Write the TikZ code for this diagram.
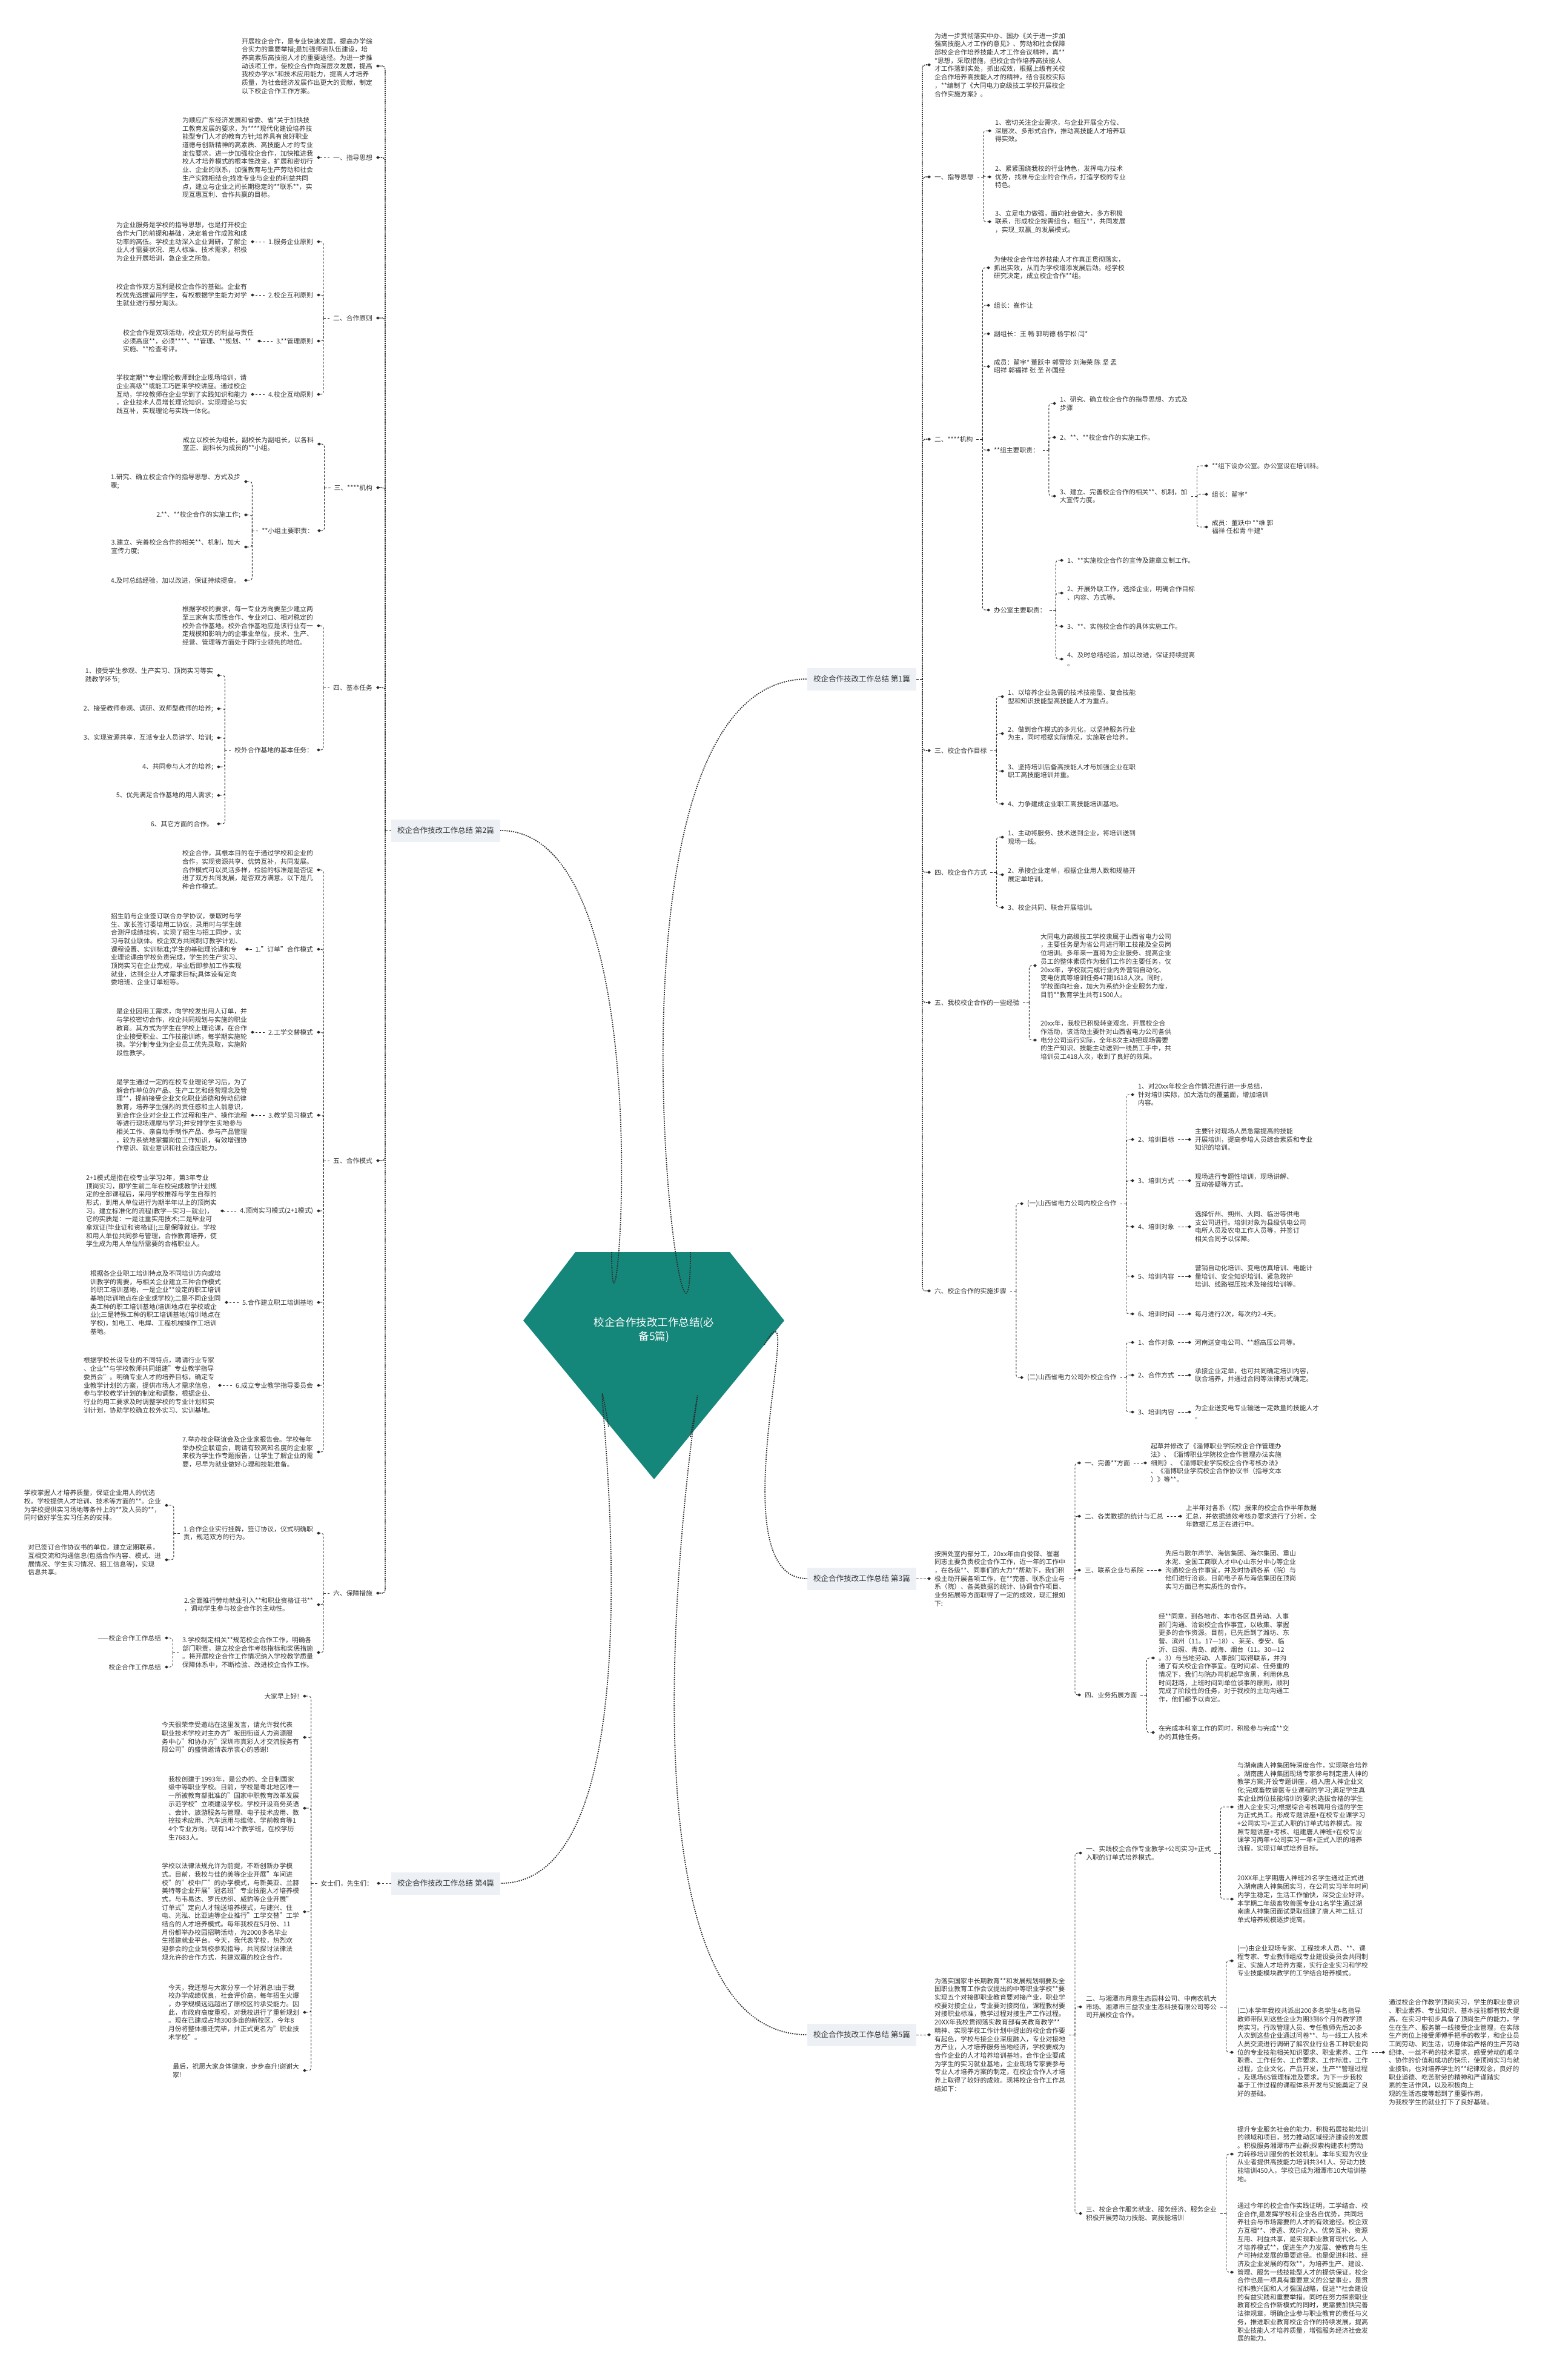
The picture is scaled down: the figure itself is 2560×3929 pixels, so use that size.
\documentclass[tikz,border=0pt]{standalone}
\usepackage{fontspec}
\setmainfont{Noto Sans CJK SC}
\usepackage{tikz}
\usetikzlibrary{positioning,arrows.meta,shapes.geometric,calc}
\usepackage{xcolor}
\definecolor{hubteal}{HTML}{15867A}
\definecolor{boxfill}{HTML}{EDF1F6}
\definecolor{inkgray}{HTML}{333333}
\definecolor{linegray}{HTML}{2B2B2B}

\begin{document}
\begin{tikzpicture}[x=1pt, y=-1pt,
    every node/.style={font=\fontsize{10.8}{13.7}\selectfont, text=inkgray},
    lt/.style={anchor=east, align=left, inner sep=0pt, outer xsep=6pt, outer ysep=0pt},
    rt/.style={anchor=west, align=left, inner sep=0pt, outer xsep=6pt, outer ysep=0pt},
    branch/.style={fill=boxfill, inner xsep=10pt, inner ysep=0pt, minimum height=37pt, font=\fontsize{12.5}{15}\selectfont},
    link/.style={draw=linegray, line width=0.9pt, dash pattern=on 3.5pt off 2.5pt, rounded corners=4pt, -{Diamond[length=6pt,width=5pt]}},
    stub/.style={draw=linegray, line width=0.9pt, dash pattern=on 3.5pt off 2.5pt},
    spine/.style={draw=linegray, line width=1.6pt, dash pattern=on 1.6pt off 1.6pt, rounded corners=5pt, -{Diamond[length=6pt,width=5pt]}},
    hubline/.style={draw=linegray, line width=1.8pt, dash pattern=on 1.8pt off 1.8pt}
]
    \fill[white] (0,0) rectangle (2560,3929);
    \useasboundingbox (0,0) rectangle (2560,3929);

    % Zentrum
    \fill[hubteal] (950,2067) -- (1205,2067) -- (1295,2180) -- (1080,2442) -- (864,2180) -- cycle;
    \node[text=white, align=center, font=\fontsize{17.5}{23}\selectfont] (hub) at (1080,2195) {校企合作技改工作总结(必\\备5篇)};
    \coordinate (hubA) at (1140,2067);
    \coordinate (hubB) at (1010,2067);
    \coordinate (hubC) at (1262,2220);
    \coordinate (hubD) at (1005,2355);
    \coordinate (hubE) at (1140,2372);

    % Hauptäste
    \node[branch, anchor=east] (bOne) at (1513,1121) {校企合作技改工作总结 第1篇};
    \node[branch, anchor=west] (bTwo) at (646,1371) {校企合作技改工作总结 第2篇};
    \node[branch, anchor=east] (bThree) at (1513,2606) {校企合作技改工作总结 第3篇};
    \node[branch, anchor=west] (bFour) at (646,3109) {校企合作技改工作总结 第4篇};
    \node[branch, anchor=east] (bFive) at (1513,3359) {校企合作技改工作总结 第5篇};

    \draw[hubline] (hubA) to[out=-90, in=180] (bOne.west);
    \draw[hubline] (hubB) to[out=-90, in=0] (bTwo.east);
    \draw[hubline] (hubC) to[out=60, in=180] (bThree.west);
    \draw[hubline] (hubD) to[out=100, in=0] (bFour.east);
    \draw[hubline] (hubE) to[out=80, in=180] (bFive.west);

    % ===== 第2篇 =====
    \node[lt] (twoIntro) at (621,109) {开展校企合作，是专业快速发展，提高办学综\\合实力的重要举措;是加强师资队伍建设，培\\养高素质高技能人才的重要途径。为进一步推\\动该项工作，使校企合作向深层次发展，提高\\我校办学水*和技术应用能力，提高人才培养\\质量，为社会经济发展作出更大的贡献，制定\\以下校企合作工作方案。};
    \node[lt] (twoGuide) at (621,260) {一、指导思想};
    \node[lt] (twoGuideTxt) at (523,260) {为顺应广东经济发展和省委、省*关于加快技\\工教育发展的要求，为****现代化建设培养技\\能型专门人才的教育方针;培养具有良好职业\\道德与创新精神的高素质、高技能人才的专业\\定位要求，进一步加强校企合作，加快推进我\\校人才培养模式的根本性改变，扩展和密切行\\业、企业的联系，加强教育与生产劳动和社会\\生产实践相结合;找准专业与企业的利益共同\\点，建立与企业之间长期稳定的**联系**，实\\现互惠互利、合作共赢的目标。};
    \node[lt] (twoPrin) at (621,525) {二、合作原则};
    \node[lt] (twoPrinA) at (523,399) {1.服务企业原则};
    \node[lt] (twoPrinAt) at (414,399) {为企业服务是学校的指导思想，也是打开校企\\合作大门的前提和基础，决定着合作成败和成\\功率的高低。学校主动深入企业调研，了解企\\业人才需要状况、用人标准、技术需求，积极\\为企业开展培训，急企业之所急。};
    \node[lt] (twoPrinB) at (523,487) {2.校企互利原则};
    \node[lt] (twoPrinBt) at (414,487) {校企合作双方互利是校企合作的基础。企业有\\权优先选拔留用学生，有权根据学生能力对学\\生就业进行部分淘汰。};
    \node[lt] (twoPrinC) at (523,563) {3.**管理原则};
    \node[lt] (twoPrinCt) at (425,563) {校企合作是双项活动，校企双方的利益与责任\\必须高度**，必须****、**管理、**规划、**\\实施、**检查考评。};
    \node[lt] (twoPrinD) at (523,651) {4.校企互动原则};
    \node[lt] (twoPrinDt) at (414,651) {学校定期**专业理论教师到企业现场培训，请\\企业高级**或能工巧匠来学校讲座。通过校企\\互动，学校教师在企业学到了实践知识和能力\\，企业技术人员增长理论知识，实现理论与实\\践互补，实现理论与实践一体化。};

    \node[lt] (twoOrg) at (621,805) {三、****机构};
    \node[lt] (twoOrgTxt) at (524,733) {成立以校长为组长，副校长为副组长，以各科\\室正、副科长为成员的**小组。};
    \node[lt] (twoOrgDuty) at (524,876) {**小组主要职责：};
    \node[lt] (twoOrgDutyA) at (403,795) {1.研究、确立校企合作的指导思想、方式及步\\骤;};
    \node[lt] (twoOrgDutyB) at (403,850) {2.**、**校企合作的实施工作;};
    \node[lt] (twoOrgDutyC) at (403,903) {3.建立、完善校企合作的相关**、机制，加大\\宣传力度;};
    \node[lt] (twoOrgDutyD) at (403,958) {4.及时总结经验，加以改进，保证持续提高。};

    \node[lt] (twoTask) at (621,1135) {四、基本任务};
    \node[lt] (twoTaskTxt) at (523,1033) {根据学校的要求，每一专业方向要至少建立两\\至三家有实质性合作、专业对口、相对稳定的\\校外合作基地。校外合作基地应是该行业有一\\定规模和影响力的企事业单位，技术、生产、\\经营、管理等方面处于同行业领先的地位。};
    \node[lt] (twoTaskBase) at (523,1238) {校外合作基地的基本任务：};
    \node[lt] (twoTaskBaseA) at (358,1115) {1、接受学生参观、生产实习、顶岗实习等实\\践教学环节;};
    \node[lt] (twoTaskBaseB) at (358,1170) {2、接受教师参观、调研、双师型教师的培养;};
    \node[lt] (twoTaskBaseC) at (358,1218) {3、实现资源共享，互派专业人员讲学、培训;};
    \node[lt] (twoTaskBaseD) at (358,1266) {4、共同参与人才的培养;};
    \node[lt] (twoTaskBaseE) at (358,1313) {5、优先满足合作基地的用人需求;};
    \node[lt] (twoTaskBaseF) at (358,1360) {6、其它方面的合作。};

    \node[lt] (twoMode) at (621,1916) {五、合作模式};
    \node[lt] (twoModeTxt) at (523,1436) {校企合作，其根本目的在于通过学校和企业的\\合作，实现资源共享、优势互补，共同发展。\\合作模式可以灵活多样，检验的标准是是否促\\进了双方共同发展，是否双方满意。以下是几\\种合作模式。};
    \node[lt] (twoModeA) at (523,1567) {1."订单"合作模式};
    \node[lt] (twoModeAt) at (405,1567) {招生前与企业签订联合办学协议，录取时与学\\生、家长签订委培用工协议，录用时与学生综\\合测评成绩挂钩，实现了招生与招工同步，实\\习与就业联体。校企双方共同制订教学计划、\\课程设置、实训标准;学生的基础理论课和专\\业理论课由学校负责完成，学生的生产实习、\\顶岗实习在企业完成，毕业后即参加工作实现\\就业，达到企业人才需求目标;具体设有定向\\委培班、企业订单班等。};
    \node[lt] (twoModeB) at (523,1704) {2.工学交替模式};
    \node[lt] (twoModeBt) at (414,1704) {是企业因用工需求，向学校发出用人订单，并\\与学校密切合作，校企共同规划与实施的职业\\教育。其方式为学生在学校上理论课，在合作\\企业接受职业、工作技能训练，每学期实施轮\\换。学分制专业为企业员工优先录取，实施阶\\段性教学。};
    \node[lt] (twoModeC) at (523,1841) {3.教学见习模式};
    \node[lt] (twoModeCt) at (414,1841) {是学生通过一定的在校专业理论学习后，为了\\解合作单位的产品、生产工艺和经营理念及管\\理**，提前接受企业文化职业道德和劳动纪律\\教育，培养学生强烈的责任感和主人翁意识，\\到合作企业对企业工作过程和生产、操作流程\\等进行现场观摩与学习;并安排学生实地参与\\相关工作、亲自动手制作产品、参与产品管理\\，较为系统地掌握岗位工作知识，有效增强协\\作意识、就业意识和社会适应能力。};
    \node[lt] (twoModeD) at (523,1999) {4.顶岗实习模式(2+1模式)};
    \node[lt] (twoModeDt) at (364,1999) {2+1模式是指在校专业学习2年，第3年专业\\顶岗实习，即学生前二年在校完成教学计划规\\定的全部课程后，采用学校推荐与学生自荐的\\形式，到用人单位进行为期半年以上的顶岗实\\习。建立标准化的流程(教学—实习—就业)，\\它的实质是：一是注重实用技术;二是毕业可\\拿双证(毕业证和资格证);三是保障就业。学校\\和用人单位共同参与管理，合作教育培养，使\\学生成为用人单位所需要的合格职业人。};
    \node[lt] (twoModeE) at (523,2150) {5.合作建立职工培训基地};
    \node[lt] (twoModeEt) at (371,2150) {根据各企业职工培训特点及不同培训方向或培\\训教学的需要，与相关企业建立三种合作模式\\的职工培训基地，一是企业**设定的职工培训\\基地(培训地点在企业或学校);二是不同企业同\\类工种的职工培训基地(培训地点在学校或企\\业);三是特殊工种的职工培训基地(培训地点在\\学校)，如电工、电焊、工程机械操作工培训\\基地。};
    \node[lt] (twoModeF) at (523,2287) {6.成立专业教学指导委员会};
    \node[lt] (twoModeFt) at (360,2287) {根据学校长设专业的不同特点，聘请行业专家\\、企业**与学校教师共同组建"专业教学指导\\委员会"。明确专业人才的培养目标，确定专\\业教学计划的方案，提供市场人才需求信息，\\参与学校教学计划的制定和调整，根据企业、\\行业的用工要求及时调整学校的专业计划和实\\训计划，协助学校确立校外实习、实训基地。};
    \node[lt] (twoModeG) at (523,2397) {7.举办校企联谊会及企业家报告会。学校每年\\举办校企联谊会，聘请有较高知名度的企业家\\来校为学生作专题报告，让学生了解企业的需\\要，尽早为就业做好心理和技能准备。};

    \node[lt] (twoSafe) at (621,2630) {六、保障措施};
    \node[lt] (twoSafeA) at (523,2531) {1.合作企业实行挂牌，签订协议，仪式明确职\\责，规范双方的行为。};
    \node[lt] (twoSafeAa) at (272,2485) {学校掌握人才培养质量，保证企业用人的优选\\权。学校提供人才培训、技术等方面的**。企业\\为学校提供实习场地等条件上的**及人员的**，\\同时做好学生实习任务的安排。};
    \node[lt] (twoSafeAb) at (272,2575) {对已签订合作协议书的单位，建立定期联系，\\互相交流和沟通信息(包括合作内容、模式、进\\展情况、学生实习情况、招工信息等)，实现\\信息共享。};
    \node[lt] (twoSafeB) at (523,2649) {2.全面推行劳动就业引入**和职业资格证书**\\，调动学生参与校企合作的主动性。};
    \node[lt] (twoSafeC) at (523,2728) {3.学校制定相关**规范校企合作工作，明确各\\部门职责，建立校企合作考核指标和奖惩措施\\。将开展校企合作工作情况纳入学校教学质量\\保障体系中，不断检验、改进校企合作工作。};
    \node[lt] (twoSafeCa) at (272,2704) {——校企合作工作总结};
    \node[lt] (twoSafeCb) at (272,2752) {校企合作工作总结};

    % Verbindungen 第2篇
    \draw[stub] (bTwo.west) -- ++(-10,0) coordinate (bTwoJ);
    \foreach \c in {twoIntro,twoGuide,twoPrin,twoOrg,twoTask,twoMode,twoSafe}
        \draw[spine] (bTwoJ) |- (\c.east);
    \draw[link] (twoGuide.west) -- (twoGuideTxt.east);
    \draw[stub] (twoPrin.west) -- ++(-10,0) coordinate (twoPrinJ);
    \foreach \c in {twoPrinA,twoPrinB,twoPrinC,twoPrinD}
        \draw[link] (twoPrinJ) |- (\c.east);
    \foreach \c in {A,B,C,D}
        \draw[link] (twoPrin\c.west) -- (twoPrin\c t.east);
    \draw[stub] (twoOrg.west) -- ++(-10,0) coordinate (twoOrgJ);
    \foreach \c in {twoOrgTxt,twoOrgDuty}
        \draw[link] (twoOrgJ) |- (\c.east);
    \draw[stub] (twoOrgDuty.west) -- ++(-10,0) coordinate (twoOrgDutyJ);
    \foreach \c in {twoOrgDutyA,twoOrgDutyB,twoOrgDutyC,twoOrgDutyD}
        \draw[link] (twoOrgDutyJ) |- (\c.east);
    \draw[stub] (twoTask.west) -- ++(-10,0) coordinate (twoTaskJ);
    \foreach \c in {twoTaskTxt,twoTaskBase}
        \draw[link] (twoTaskJ) |- (\c.east);
    \draw[stub] (twoTaskBase.west) -- ++(-10,0) coordinate (twoTaskBaseJ);
    \foreach \c in {twoTaskBaseA,twoTaskBaseB,twoTaskBaseC,twoTaskBaseD,twoTaskBaseE,twoTaskBaseF}
        \draw[link] (twoTaskBaseJ) |- (\c.east);
    \draw[stub] (twoMode.west) -- ++(-10,0) coordinate (twoModeJ);
    \foreach \c in {twoModeTxt,twoModeA,twoModeB,twoModeC,twoModeD,twoModeE,twoModeF,twoModeG}
        \draw[link] (twoModeJ) |- (\c.east);
    \foreach \c in {A,B,C,D,E,F}
        \draw[link] (twoMode\c.west) -- (twoMode\c t.east);
    \draw[stub] (twoSafe.west) -- ++(-10,0) coordinate (twoSafeJ);
    \foreach \c in {twoSafeA,twoSafeB,twoSafeC}
        \draw[link] (twoSafeJ) |- (\c.east);
    \draw[stub] (twoSafeA.west) -- ++(-10,0) coordinate (twoSafeAJ);
    \foreach \c in {twoSafeAa,twoSafeAb}
        \draw[link] (twoSafeAJ) |- (\c.east);
    \draw[stub] (twoSafeC.west) -- ++(-10,0) coordinate (twoSafeCJ);
    \foreach \c in {twoSafeCa,twoSafeCb}
        \draw[link] (twoSafeCJ) |- (\c.east);

    % ===== 第4篇 =====
    \node[lt] (fourHello) at (622,3109) {女士们，先生们：};
    \node[lt] (fourA) at (500,2800) {大家早上好!};
    \node[lt] (fourB) at (500,2868) {今天很荣幸受邀站在这里发言，请允许我代表\\职业技术学校对主办方"坂田街道人力资源服\\务中心"和协办方"深圳市真彩人才交流服务有\\限公司"的盛情邀请表示衷心的感谢!};
    \node[lt] (fourC) at (500,2985) {我校创建于1993年，是公办的、全日制国家\\级中等职业学校。目前，学校是粤北地区唯一\\一所被教育部批准的"国家中职教育改革发展\\示范学校"立项建设学校。学校开设商务英语\\、会计、旅游服务与管理、电子技术应用、数\\控技术应用、汽车运用与维修、学前教育等1\\4个专业方向。现有142个教学班，在校学历\\生7683人。};
    \node[lt] (fourD) at (500,3156) {学校以法律法规允许为前提，不断创新办学模\\式。目前，我校与佳的美等企业开展"车间进\\校"的"校中厂"的办学模式，与新美亚、兰赫\\美特等企业开展"冠名班"专业技能人才培养模\\式，与韦易达、罗氏纺织、威豹等企业开展"\\订单式"定向人才输送培养模式，与建兴、住\\电、光泓、比亚迪等企业推行"工学交替"工学\\结合的人才培养模式。每年我校在5月份、11\\月份都举办校园招聘活动，为2000多名毕业\\生搭建就业平台。今天，我代表学校，热烈欢\\迎参会的企业到校参观指导，共同探讨法律法\\规允许的合作方式，共建双赢的校企合作。};
    \node[lt] (fourE) at (500,3322) {今天，我还想与大家分享一个好消息!由于我\\校办学成绩优良，社会评价高，每年招生火爆\\，办学规模远远超出了原校区的承受能力。因\\此，市政府高度重视，对我校进行了重新规划\\。现在已建成占地300多亩的新校区，今年8\\月份将整体搬迁完毕，并正式更名为"职业技\\术学校"。};
    \node[lt] (fourF) at (500,3418) {最后，祝愿大家身体健康，步步高升!谢谢大\\家!};
    \draw[link] (bFour.west) -- (fourHello.east);
    \draw[stub] (fourHello.west) -- ++(-10,0) coordinate (fourHelloJ);
    \foreach \c in {fourA,fourB,fourC,fourD,fourE,fourF}
        \draw[link] (fourHelloJ) |- (\c.east);

    % ===== 第1篇 =====
    \node[rt] (oneIntro) at (1537,107) {为进一步贯彻落实中办、国办《关于进一步加\\强高技能人才工作的意见》、劳动和社会保障\\部校企合作培养技能人才工作会议精神，真**\\*思想，采取措施，把校企合作培养高技能人\\才工作落到实处，抓出成效，根据上级有关校\\企合作培养高技能人才的精神，结合我校实际\\，**编制了《大同电力高级技工学校开展校企\\合作实施方案》。};
    \node[rt] (oneGuide) at (1537,292) {一、指导思想};
    \node[rt] (oneGuideA) at (1637,216) {1、密切关注企业需求，与企业开展全方位、\\深层次、多形式合作，推动高技能人才培养取\\得实效。};
    \node[rt] (oneGuideB) at (1637,292) {2、紧紧围绕我校的行业特色，发挥电力技术\\优势，找准与企业的合作点，打造学校的专业\\特色。};
    \node[rt] (oneGuideC) at (1637,366) {3、立足电力做强，面向社会做大，多方积极\\联系，形成校企按需组合，相互**，共同发展\\，实现\_双赢\_的发展模式。};

    \node[rt] (oneOrg) at (1537,725) {二、****机构};
    \node[rt] (oneOrgTxt) at (1635,442) {为使校企合作培养技能人才作真正贯彻落实，\\抓出实效，从而为学校增添发展后劲。经学校\\研究决定，成立校企合作**组。};
    \node[rt] (oneOrgHead) at (1635,504) {组长：崔作让};
    \node[rt] (oneOrgVice) at (1635,551) {副组长：王 畅 郭明德 杨宇松 闫*};
    \node[rt] (oneOrgMem) at (1635,605) {成员：翟宇* 董跃中 郭雪珍 刘海荣 陈 坚 孟\\昭祥 郭福祥 张 圣 孙国经};
    \node[rt] (oneOrgDuty) at (1635,743) {**组主要职责：};
    \node[rt] (oneOrgDutyA) at (1744,666) {1、研究、确立校企合作的指导思想、方式及\\步骤};
    \node[rt] (oneOrgDutyB) at (1744,722) {2、**、**校企合作的实施工作。};
    \node[rt] (oneOrgDutyC) at (1744,819) {3、建立、完善校企合作的相关**、机制，加\\大宣传力度。};
    \node[rt] (oneOffice) at (1995,769) {**组下设办公室。办公室设在培训科。};
    \node[rt] (oneOfficeHead) at (1995,816) {组长：翟宇*};
    \node[rt] (oneOfficeMem) at (1995,870) {成员：董跃中 **维 郭\\福祥 任松青 牛建*};
    \node[rt] (oneOfficeDuty) at (1635,1007) {办公室主要职责：};
    \node[rt] (oneOfficeDutyA) at (1756,925) {1、**实施校企合作的宣传及建章立制工作。};
    \node[rt] (oneOfficeDutyB) at (1756,979) {2、开展外联工作，选择企业，明确合作目标\\、内容、方式等。};
    \node[rt] (oneOfficeDutyC) at (1756,1034) {3、**、实施校企合作的具体实施工作。};
    \node[rt] (oneOfficeDutyD) at (1756,1088) {4、及时总结经验，加以改进，保证持续提高\\。};

    \node[rt] (oneGoal) at (1537,1239) {三、校企合作目标};
    \node[rt] (oneGoalA) at (1658,1150) {1、以培养企业急需的技术技能型、复合技能\\型和知识技能型高技能人才为重点。};
    \node[rt] (oneGoalB) at (1658,1211) {2、做到合作模式的多元化，以坚持服务行业\\为主，同时根据实际情况，实施联合培养。};
    \node[rt] (oneGoalC) at (1658,1273) {3、坚持培训后备高技能人才与加强企业在职\\职工高技能培训并重。};
    \node[rt] (oneGoalD) at (1658,1327) {4、力争建成企业职工高技能培训基地。};

    \node[rt] (oneWay) at (1537,1440) {四、校企合作方式};
    \node[rt] (oneWayA) at (1658,1382) {1、主动将服务、技术送到企业，将培训送到\\现场一线。};
    \node[rt] (oneWayB) at (1658,1444) {2、承接企业定单，根据企业用人数和规格开\\展定单培训。};
    \node[rt] (oneWayC) at (1658,1498) {3、校企共同、联合开展培训。};

    \node[rt] (oneExp) at (1537,1655) {五、我校校企合作的一些经验};
    \node[rt] (oneExpA) at (1712,1594) {大同电力高级技工学校隶属于山西省电力公司\\，主要任务是为省公司进行职工技能及全员岗\\位培训。多年来一直将为企业服务、提高企业\\员工的整体素质作为我们工作的主要任务，仅\\20xx年，学校就完成行业内外营销自动化、\\变电仿真等培训任务47期1618人次。同时，\\学校面向社会，加大为系统外企业服务力度，\\目前**教育学生共有1500人。};
    \node[rt] (oneExpB) at (1712,1717) {20xx年，我校已积极转变观念，开展校企合\\作活动，该活动主要针对山西省电力公司各供\\电分公司运行实际，全年8次主动把现场需要\\的生产知识、技能主动送到一线员工手中，共\\培训员工418人次，收到了良好的效果。};

    \node[rt] (oneStep) at (1537,2131) {六、校企合作的实施步骤};
    \node[rt] (oneStepIn) at (1690,1987) {(一)山西省电力公司内校企合作};
    \node[rt] (oneStepInA) at (1873,1807) {1、对20xx年校企合作情况进行进一步总结，\\针对培训实际，加大活动的覆盖面，增加培训\\内容。};
    \node[rt] (oneStepInB) at (1873,1881) {2、培训目标};
    \node[rt] (oneStepInBt) at (1967,1881) {主要针对现场人员急需提高的技能\\开展培训，提高参培人员综合素质和专业\\知识的培训。};
    \node[rt] (oneStepInC) at (1873,1949) {3、培训方式};
    \node[rt] (oneStepInCt) at (1967,1949) {现场进行专题性培训，现场讲解、\\互动答疑等方式。};
    \node[rt] (oneStepInD) at (1873,2025) {4、培训对象};
    \node[rt] (oneStepInDt) at (1967,2025) {选择忻州、朔州、大同、临汾等供电\\支公司进行。培训对象为县级供电公司\\电所人员及农电工作人员等，并签订\\相关合同予以保障。};
    \node[rt] (oneStepInE) at (1873,2107) {5、培训内容};
    \node[rt] (oneStepInEt) at (1967,2107) {营销自动化培训、变电仿真培训、电能计\\量培训、安全知识培训、紧急救护\\培训、线路钳压技术及接线培训等。};
    \node[rt] (oneStepInF) at (1873,2169) {6、培训时间};
    \node[rt] (oneStepInFt) at (1967,2169) {每月进行2次，每次约2-4天。};
    \node[rt] (oneStepOut) at (1690,2274) {(二)山西省电力公司外校企合作};
    \node[rt] (oneStepOutA) at (1873,2216) {1、合作对象};
    \node[rt] (oneStepOutAt) at (1967,2216) {河南送变电公司、**超高压公司等。};
    \node[rt] (oneStepOutB) at (1873,2270) {2、合作方式};
    \node[rt] (oneStepOutBt) at (1967,2270) {承接企业定单，也可共同确定培训内容，\\联合培养，并通过合同等法律形式确定。};
    \node[rt] (oneStepOutC) at (1873,2331) {3、培训内容};
    \node[rt] (oneStepOutCt) at (1967,2331) {为企业送变电专业输送一定数量的技能人才\\。};

    % Verbindungen 第1篇
    \draw[stub] (bOne.east) -- ++(10,0) coordinate (bOneJ);
    \foreach \c in {oneIntro,oneGuide,oneOrg,oneGoal,oneWay,oneExp,oneStep}
        \draw[spine] (bOneJ) |- (\c.west);
    \draw[stub] (oneGuide.east) -- ++(10,0) coordinate (oneGuideJ);
    \foreach \c in {oneGuideA,oneGuideB,oneGuideC}
        \draw[link] (oneGuideJ) |- (\c.west);
    \draw[stub] (oneOrg.east) -- ++(10,0) coordinate (oneOrgJ);
    \foreach \c in {oneOrgTxt,oneOrgHead,oneOrgVice,oneOrgMem,oneOrgDuty,oneOfficeDuty}
        \draw[link] (oneOrgJ) |- (\c.west);
    \draw[stub] (oneOrgDuty.east) -- ++(10,0) coordinate (oneOrgDutyJ);
    \foreach \c in {oneOrgDutyA,oneOrgDutyB,oneOrgDutyC}
        \draw[link] (oneOrgDutyJ) |- (\c.west);
    \draw[stub] (oneOrgDutyC.east) -- ++(10,0) coordinate (oneOrgDutyCJ);
    \foreach \c in {oneOffice,oneOfficeHead,oneOfficeMem}
        \draw[link] (oneOrgDutyCJ) |- (\c.west);
    \draw[stub] (oneOfficeDuty.east) -- ++(10,0) coordinate (oneOfficeDutyJ);
    \foreach \c in {oneOfficeDutyA,oneOfficeDutyB,oneOfficeDutyC,oneOfficeDutyD}
        \draw[link] (oneOfficeDutyJ) |- (\c.west);
    \draw[stub] (oneGoal.east) -- ++(10,0) coordinate (oneGoalJ);
    \foreach \c in {oneGoalA,oneGoalB,oneGoalC,oneGoalD}
        \draw[link] (oneGoalJ) |- (\c.west);
    \draw[stub] (oneWay.east) -- ++(10,0) coordinate (oneWayJ);
    \foreach \c in {oneWayA,oneWayB,oneWayC}
        \draw[link] (oneWayJ) |- (\c.west);
    \draw[stub] (oneExp.east) -- ++(10,0) coordinate (oneExpJ);
    \foreach \c in {oneExpA,oneExpB}
        \draw[link] (oneExpJ) |- (\c.west);
    \draw[stub] (oneStep.east) -- ++(10,0) coordinate (oneStepJ);
    \foreach \c in {oneStepIn,oneStepOut}
        \draw[link] (oneStepJ) |- (\c.west);
    \draw[stub] (oneStepIn.east) -- ++(10,0) coordinate (oneStepInJ);
    \foreach \c in {oneStepInA,oneStepInB,oneStepInC,oneStepInD,oneStepInE,oneStepInF}
        \draw[link] (oneStepInJ) |- (\c.west);
    \foreach \c in {B,C,D,E,F}
        \draw[link] (oneStepIn\c.east) -- (oneStepIn\c t.west);
    \draw[stub] (oneStepOut.east) -- ++(10,0) coordinate (oneStepOutJ);
    \foreach \c in {oneStepOutA,oneStepOutB,oneStepOutC}
        \draw[link] (oneStepOutJ) |- (\c.west);
    \foreach \c in {A,B,C}
        \draw[link] (oneStepOut\c.east) -- (oneStepOut\c t.west);

    % ===== 第3篇 =====
    \node[rt] (threeIntro) at (1537,2606) {按照处室内部分工，20xx年由白俊铎、崔署\\同志主要负责校企合作工作，近一年的工作中\\，在各级**、同事们的大力**帮助下，我们积\\极主动开展各项工作，在**完善、联系企业与\\系（院）、各类数据的统计、协调合作项目、\\业务拓展等方面取得了一定的成效，现汇报如\\下:};
    \node[rt] (threeLaw) at (1785,2415) {一、完善**方面};
    \node[rt] (threeLawTxt) at (1894,2415) {起草并修改了《淄博职业学院校企合作管理办\\法》、《淄博职业学院校企合作管理办法实施\\细则》、《淄博职业学院校企合作考核办法》\\、《淄博职业学院校企合作协议书（指导文本\\）》等**。};
    \node[rt] (threeData) at (1785,2503) {二、各类数据的统计与汇总};
    \node[rt] (threeDataTxt) at (1952,2503) {上半年对各系（院）报来的校企合作半年数据\\汇总，并依据绩效考核办要求进行了分析，全\\年数据汇总正在进行中。};
    \node[rt] (threeLink) at (1785,2592) {三、联系企业与系院};
    \node[rt] (threeLinkTxt) at (1918,2592) {先后与歌尔声学、海信集团、海尔集团、重山\\水泥、全国工商联人才中心山东分中心等企业\\沟通校企合作事宜，并及时协调各系（院）与\\他们进行洽谈。目前电子系与海信集团在顶岗\\实习方面已有实质性的合作。};
    \node[rt] (threeBiz) at (1785,2798) {四、业务拓展方面};
    \node[rt] (threeBizA) at (1907,2737) {经**同意，到各地市、本市各区县劳动、人事\\部门沟通、洽谈校企合作事宜，以收集、掌握\\更多的合作资源。目前，已先后到了潍坊、东\\营、滨州（11。17—18）、莱芜、泰安、临\\沂、日照、青岛、威海、烟台（11。30—12\\。3）与当地劳动、人事部门取得联系，并沟\\通了有关校企合作事宜。在时间紧、任务重的\\情况下，我们与院办司机起早贪黑，利用休息\\时间赶路，上班时间到单位谈事的原则，顺利\\完成了阶段性的任务，对于我校的主动沟通工\\作，他们都予以肯定。};
    \node[rt] (threeBizB) at (1907,2860) {在完成本科室工作的同时，积极参与完成**交\\办的其他任务。};
    \draw[link] (bThree.east) -- (threeIntro.west);
    \draw[stub] (threeIntro.east) -- ++(10,0) coordinate (threeIntroJ);
    \foreach \c in {threeLaw,threeData,threeLink,threeBiz}
        \draw[link] (threeIntroJ) |- (\c.west);
    \foreach \c in {Law,Data,Link}
        \draw[link] (three\c.east) -- (three\c Txt.west);
    \draw[stub] (threeBiz.east) -- ++(10,0) coordinate (threeBizJ);
    \foreach \c in {threeBizA,threeBizB}
        \draw[link] (threeBizJ) |- (\c.west);

    % ===== 第5篇 =====
    \node[rt] (fiveIntro) at (1537,3359) {为落实国家中长期教育**和发展规划纲要及全\\国职业教育工作会议提出的中等职业学校**要\\实现五个对接即职业教育要对接产业，职业学\\校要对接企业，专业要对接岗位，课程教材要\\对接职业标准，教学过程对接生产工作过程。\\20XX年我校贯彻落实教育部有关教育教学**\\精神、实现学校工作计划中提出的校企合作要\\有起色，学校与接企业深度融入，专业对接地\\方产业，人才培养服务当地经济，学校要成为\\合作企业的人才培养培训基地，合作企业要成\\为学生的实习就业基地，企业现场专家要参与\\专业人才培养方案的制定，在校企合作人才培\\养上取得了较好的成效。现将校企合作工作总\\结如下：};
    \node[rt] (fiveA) at (1787,3059) {一、实践校企合作专业教学+公司实习+正式\\入职的订单式培养模式。};
    \node[rt] (fiveAa) at (2037,2983) {与湖南唐人神集团特深度合作，实现联合培养\\。湖南唐人神集团现场专家参与制定唐人神的\\教学方案;开设专题讲座，植入唐人神企业文\\化;完成畜牧兽医专业课程的学习;满足学生真\\实企业岗位技能培训的要求;选拔合格的学生\\进入企业实习;根据综合考核聘用合适的学生\\为正式员工。形成专题讲座+在校专业课学习\\+公司实习+正式入职的订单式培养模式。按\\照专题讲座+考核、组建唐人神班+在校专业\\课学习两年+公司实习一年+正式入职的培养\\流程，实现订单式培养目标。};
    \node[rt] (fiveAb) at (2037,3135) {20XX年上学期唐人神班29名学生通过正式进\\入湖南唐人神集团实习，在公司实习半年时间\\内学生稳定，生活工作愉快，深受企业好评。\\本学期二年级畜牧兽医专业41名学生通过湖\\南唐人神集团面试录取组建了唐人神二班.订\\单式培养规模逐步提高。};
    \node[rt] (fiveB) at (1787,3313) {二、与湘潭市月意生态园林公司、中南农机大\\市场、湘潭市三益农业生态科技有限公司等公\\司开展校企合作。};
    \node[rt] (fiveBa) at (2037,3237) {(一)由企业现场专家、工程技术人员、**、课\\程专家、专业教师组成专业建设委员会共同制\\定、实施人才培养方案，实行企业实习和学校\\专业技能模块教学的工学结合培养模式。};
    \node[rt] (fiveBb) at (2037,3388) {(二)本学年我校共派出200多名学生4名指导\\教师带队到这些企业为期3到6个月的教学顶\\岗实习。行政管理人员、专任教师先后20多\\人次到这些企业通过问卷**、与一线工人技术\\人员交流进行调研了解农业行业各工种职业岗\\位的专业技能相关知识要求、职业素养、工作\\职责、工作任务、工作要求、工作标准，工作\\过程，企业文化，产品开发，生产**管理过程\\，及现场6S管理标准及要求。为下一步我校\\基于工作过程的课程体系开发与实施奠定了良\\好的基础。};
    \node[rt] (fiveBbt) at (2287,3388) {通过校企合作教学顶岗实习，学生的职业意识\\、职业素养、专业知识、基本技能都有较大提\\高，在实习中初步具备了顶岗生产的能力，学\\生在生产、服务第一线接受企业管理，在实际\\生产岗位上接受师傅手把手的教学，和企业员\\工同劳动、同生活，切身体验严格的生产劳动\\纪律、一丝不苟的技术要求，感受劳动的艰辛\\、协作的价值和成功的快乐，使顶岗实习与就\\业接轨，也对培养学生的**纪律观念，良好的\\职业道德、吃苦耐劳的精神和严谨踏实\\素的生活作风，以及积极向上\\观的生活态度等起到了重要作用，\\为我校学生的就业打下了良好基础。};
    \node[rt] (fiveC) at (1787,3654) {三、校企合作服务就业、服务经济、服务企业\\积极开展劳动力技能、高技能培训};
    \node[rt] (fiveCa) at (2037,3556) {提升专业服务社会的能力，积极拓展技能培训\\的领域和项目，努力推动区域经济建设的发展\\。积极服务湘潭市产业群;探索构建农村劳动\\力转移培训服务的长效机制。本年实现为农业\\从业者提供高技能力培训共341人、劳动力技\\能培训450人，学校已成为湘潭市10大培训基\\地。};
    \node[rt] (fiveCb) at (2037,3751) {通过今年的校企合作实践证明，工学结合、校\\企合作,是发挥学校和企业各自优势，共同培\\养社会与市场需要的人才的有效途径。校企双\\方互相**、渗透、双向介入、优势互补、资源\\互用、利益共享，是实现职业教育现代化、人\\才培养模式**，促进生产力发展、使教育与生\\产可持续发展的重要途径。也是促进科技、经\\济及企业发展的有效**，为培养生产、建设、\\管理、服务一线技能型人才的提供保证。校企\\合作也是一项具有重要意义的公益事业，是贯\\彻科教兴国和人才强国战略，促进**社会建设\\的有益实践和重要举措。同时在努力探索职业\\教育校企合作新模式的同时，更需要加快完善\\法律规章，明确企业参与职业教育的责任与义\\务，推进职业教育校企合作的持续发展，提高\\职业技能人才培养质量，增强服务经济社会发\\展的能力。};
    \draw[link] (bFive.east) -- (fiveIntro.west);
    \draw[stub] (fiveIntro.east) -- ++(10,0) coordinate (fiveIntroJ);
    \foreach \c in {fiveA,fiveB,fiveC}
        \draw[link] (fiveIntroJ) |- (\c.west);
    \draw[stub] (fiveA.east) -- ++(10,0) coordinate (fiveAJ);
    \foreach \c in {fiveAa,fiveAb}
        \draw[link] (fiveAJ) |- (\c.west);
    \draw[stub] (fiveB.east) -- ++(10,0) coordinate (fiveBJ);
    \foreach \c in {fiveBa,fiveBb}
        \draw[link] (fiveBJ) |- (\c.west);
    \draw[link] (fiveBb.east) -- (fiveBbt.west);
    \draw[stub] (fiveC.east) -- ++(10,0) coordinate (fiveCJ);
    \foreach \c in {fiveCa,fiveCb}
        \draw[link] (fiveCJ) |- (\c.west);
\end{tikzpicture}
\end{document}
